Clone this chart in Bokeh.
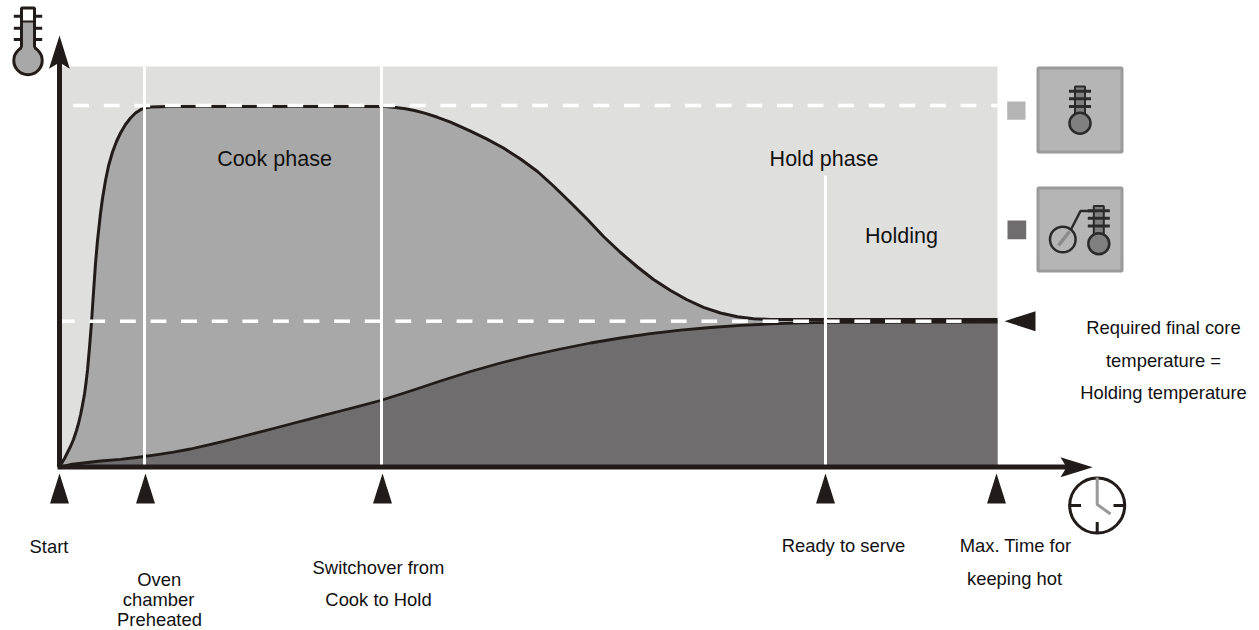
from bokeh.plotting import figure
from bokeh.models import Range1d
from bokeh.core.properties import value
from bokeh.embed import file_html
from bokeh.resources import INLINE

# Data: unitless time / temperature
oven_time = [0, 2, 5, 8, 11, 14, 17, 19, 21, 23, 25, 26.5, 28, 30, 32, 34, 36, 38, 41, 43, 46, 49, 53, 57, 61, 66, 71, 76, 81, 86, 91, 110,
             326, 336, 346, 356, 366, 378, 391, 411, 427, 444, 461, 478, 494, 511, 528, 544, 561, 578, 594, 611, 627, 644, 661, 678, 694, 711, 938]
oven_temp = [0, 3.5, 8.5, 14.5, 20.5, 27.5, 36.5, 43.5, 52, 62, 73, 84, 97, 119.5, 144.5, 174.5, 203.5, 226.5, 253.5, 268.5, 286.5, 301, 315, 325.5, 334, 342.5, 349, 354, 357.3, 359.3, 360, 360.5,
             360.5, 359.6, 358.3, 356.3, 353.6, 349.7, 344.9, 335.9, 328.1, 319, 308, 295.5, 281, 264.5, 247.5, 230.5, 214.5, 200, 187.5, 176.5, 167.5, 159.7, 154, 150.2, 148.3, 147.5, 147.5]
core_time = [0, 11, 41, 61, 81, 98, 114, 131, 148, 164, 181, 197, 214, 231, 248, 264, 281, 301, 321, 351, 381, 411, 441, 471, 501, 531, 561, 591, 621, 651, 681, 711, 741, 771, 938]
core_temp = [0, 2.5, 6, 7.7, 10, 12.3, 14.8, 18, 21.8, 25.6, 30, 34.2, 38.5, 43, 47.4, 51.6, 56, 61.2, 66.5, 76, 86, 95.5, 104, 111.5, 118, 124, 129, 133.3, 136.8, 139.5, 141.6, 143.1, 144.1, 144.7, 145]
event_times = [0, 86, 323, 766, 937]
white_times = [85, 322, 766]
white_tops = [400.5, 400.5, 291.5]
setpoint_temp = 361.5
final_temp = 145.8
max_time = 938
top_temp = 400.5

labels = ["Cook phase", "Hold phase", "Holding"]
label_x = [274, 823.5, 901]
label_y = [158, 158, 235]
notes = ["Start", "Oven", "chamber", "Preheated", "Switchover from", "Cook to Hold", "Ready to serve",
         "Max. Time for", "keeping hot", "Required final core", "temperature =", "Holding temperature"]
note_x = [48.5, 158.7, 158, 159, 378, 378, 843, 1015, 1014, 1163, 1163, 1163]
note_y = [546, 579, 599, 619, 567, 599, 545, 545, 578, 327, 360, 392]

OX, OY = 59, 466.5
INK = "#211b19"
LIGHT, MID, DARK = "#dfdfde", "#a8a8a8", "#6f6d6e"
FONT = value("Liberation Sans")

p = figure(width=1259, height=630, output_backend="svg", toolbar_location=None,
           x_range=Range1d(0 - OX, 1259 - OX), y_range=Range1d(OY - 630, OY),
           min_border=0, outline_line_color=None, background_fill_color="white",
           border_fill_color="white")
p.axis.visible = False
p.grid.visible = False

def X(v): return [a - OX for a in v]
def Y(v): return [OY - a for a in v]
def poly(xs, ys, **k): p.patch(X(xs), Y(ys), line_color=None, **k)
def box(x0, x1, y0, y1, **k): p.quad(left=x0 - OX, right=x1 - OX, top=OY - y0, bottom=OY - y1, **k)
def seg(xs, ys, **k): p.line(X(xs), Y(ys), **k)
def ring(cx, cy, r, **k): p.circle(x=[cx - OX], y=[OY - cy], radius=r, **k)

# areas
p.quad(left=[0], right=[max_time], bottom=[0], top=[top_temp], fill_color=LIGHT, line_color=None)
p.varea(x=oven_time, y1=[0] * len(oven_time), y2=oven_temp, fill_color=MID)
p.varea(x=core_time, y1=[0] * len(core_time), y2=core_temp, fill_color=DARK)
p.line(oven_time, oven_temp, line_color=INK, line_width=3, line_join="round")
p.line(core_time, core_temp, line_color=INK, line_width=2.8, line_join="round")

# white lines
p.segment(x0=white_times, y0=[0] * 3, x1=white_times, y1=white_tops, line_color="white", line_width=3)

def dashes(first, last, level):
    starts, ends = [], []
    s = first
    while s < last:
        starts.append(s)
        ends.append(min(s + 15.8, last))
        s += 30.6
    p.segment(x0=starts, y0=[level] * len(starts), x1=ends, y1=[level] * len(starts),
              line_color="white", line_width=3.5)

dashes(13.7, max_time, setpoint_temp)
dashes(-0.7, 902, final_temp)

# axes with arrows
seg([59, 59], [466.5, 60], line_color=INK, line_width=5)
seg([57, 1070], [466.5, 466.5], line_color=INK, line_width=5)
poly([59, 69.3, 59, 48.5], [35, 68.3, 62, 68.3], fill_color=INK)
poly([1092.3, 1060, 1066, 1060], [466.7, 456.7, 466.7, 476.7], fill_color=INK)

# event markers
for t in event_times:
    p.patch([t - 9.5, t, t + 9.5], [OY - 503, OY - 473, OY - 503], fill_color=INK, line_color=None)
poly([1004, 1035, 1035], [320.7, 310.7, 330.7], fill_color=INK)

# legend squares
box(1006.7, 1025, 101, 119.3, fill_color="#b4b4b4", line_color=None)
box(1007, 1025.7, 220, 238.7, fill_color=DARK, line_color=None)

# button icons
for y0, y1 in ((67.5, 151.5), (187.5, 270.5)):
    box(1037.5, 1121.5, y0, y1, fill_color="#b5b5b5", line_color="#9a9a9a", line_width=3)

def small_thermo(cx, top, bulb):
    box(cx - 5, cx + 5, top, bulb, fill_color="#808080", line_color="#2b2b2b", line_width=2)
    for d in (4.7, 12.3, 20):
        seg([cx - 11, cx + 11], [top + d, top + d], line_color="#2b2b2b", line_width=3)
    ring(cx, bulb, 10.5, fill_color="#808080", line_color="#2b2b2b", line_width=2.5)

small_thermo(1079.5, 86, 122.7)
small_thermo(1098.3, 205.5, 243.3)
ring(1062.3, 239, 12.8, fill_color=None, line_color="#2a2a2a", line_width=2.5)
seg([1058, 1069], [245, 231], line_color="#8a8a8a", line_width=3.5)
seg([1070.5, 1080, 1092], [229, 210.5, 210.5], line_color="#2a2a2a", line_width=2.5)

# big thermometer
ring(27.5, 60, 14.2, fill_color=MID, line_color=INK, line_width=3)
box(21.5, 33.5, 21, 50, fill_color=MID, line_color=None)
box(21.5, 33.5, 8.5, 21, fill_color="white", line_color=None)
seg([21, 21, 34, 34], [47, 7.5, 7.5, 47], line_color=INK, line_width=3)
seg([21, 34], [21, 21], line_color=INK, line_width=2)
for y in (15.7, 27.7, 39):
    seg([13.3, 21], [y, y], line_color=INK, line_width=3)
    seg([34, 41.7], [y, y], line_color=INK, line_width=3)

# clock
ring(1096.7, 505, 27.5, fill_color=None, line_color=INK, line_width=3)
seg([1096.7, 1096.7, 1110], [477, 504, 513.5], line_color="#999999", line_width=3)
seg([1068, 1080.5], [505, 505], line_color=INK, line_width=3)
seg([1113, 1125.5], [505, 505], line_color=INK, line_width=3)
seg([1096.7, 1096.7], [521.5, 533], line_color=INK, line_width=3)

# texts
p.text(X(label_x), Y(label_y), text=labels, text_font=FONT, text_font_size="21.5px", text_color="#111111",
       text_align="center", text_baseline="middle")
p.text(X(note_x), Y(note_y), text=notes, text_font=FONT, text_font_size="18.4px", text_color="#111111",
       text_align="center", text_baseline="middle")

open("out.html", "w").write(file_html(p, INLINE))
